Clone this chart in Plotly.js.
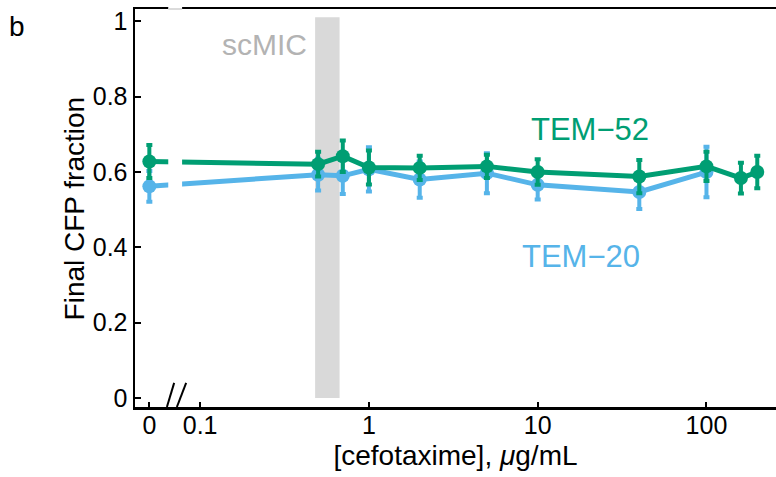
<!DOCTYPE html>
<html>
<head>
<meta charset="utf-8">
<script src="https://cdn.plot.ly/plotly-3.0.1.min.js"></script>
<style>
  html, body { margin: 0; padding: 0; background: #ffffff; }
  #chart { width: 776px; height: 477px; }
</style>
</head>
<body>
<div id="chart"></div>
<script>
// Cefotaxime concentrations (µg/mL); 0 is drawn left of the axis break
const concTEM52 = [0, 0.5, 0.7, 1, 2, 5, 10, 40, 100, 160, 200];
const fracTEM52 = [0.628, 0.621, 0.642, 0.612, 0.611, 0.615, 0.600, 0.588, 0.615, 0.584, 0.600];
const errTEM52  = [0.044, 0.033, 0.042, 0.045, 0.032, 0.031, 0.034, 0.044, 0.039, 0.041, 0.043];

const concTEM20 = [0, 0.5, 0.7, 1, 2, 5, 10, 40, 100];
const fracTEM20 = [0.562, 0.593, 0.590, 0.607, 0.580, 0.597, 0.566, 0.547, 0.600];
const errTEM20  = [0.041, 0.042, 0.048, 0.059, 0.048, 0.053, 0.039, 0.045, 0.067];

const tickValues = [0, 0.1, 1, 10, 100];
const tickLabels = ['0', '0.1', '1', '10', '100'];

// single-cell MIC band (µg/mL)
const scMICRange = [0.48, 0.67];

// where the zero concentration sits on the log axis
const ZERO_POS = 0.05;
const placeX = v => (v === 0 ? ZERO_POS : v);

const GREEN = '#009E73';
const BLUE = '#56B4E9';
const FONT = 'Liberation Sans, Arial, sans-serif';

const xLogRange = [-1.386, 2.412];
const P = e => Math.pow(10, e);

function series(conc, frac, err, color, name) {
  return {
    type: 'scatter',
    mode: 'lines+markers',
    name: name,
    x: conc.map(placeX),
    y: frac,
    line: { color: color, width: 5 },
    marker: { color: color, size: 14 },
    error_y: { type: 'data', array: err, visible: true, color: color, thickness: 4, width: 3 },
    showlegend: false,
    hoverinfo: 'x+y'
  };
}

const data = [
  series(concTEM20, fracTEM20, errTEM20, BLUE, 'TEM−20'),
  series(concTEM52, fracTEM52, errTEM52, GREEN, 'TEM−52')
];

// break between 0 and 0.1 (log10 positions)
const breakLo = -1.189, breakHi = -1.107;

const shapes = [
  // scMIC band
  { type: 'rect', xref: 'x', yref: 'y', layer: 'below',
    x0: scMICRange[0], x1: scMICRange[1], y0: 0, y1: 1.011,
    fillcolor: '#d9d9d9', line: { width: 0 } },
  // gap in the connecting lines at the break
  { type: 'rect', xref: 'x', yref: 'y', layer: 'above',
    x0: P(breakLo), x1: P(breakHi), y0: 0.45, y1: 0.75,
    fillcolor: '#ffffff', line: { width: 0 } },
  // gap in the top frame line
  { type: 'rect', xref: 'x', yref: 'paper', layer: 'above',
    x0: P(breakLo), x1: P(breakHi), y0: 0.99, y1: 1.03,
    fillcolor: '#ffffff', line: { width: 0 } },
  { type: 'line', xref: 'x', yref: 'paper', layer: 'above',
    x0: P(breakLo), x1: P(breakHi), y0: 1, y1: 1,
    line: { color: '#cfcfcf', width: 1.5 } },
  // break marks on the x axis
  { type: 'line', xref: 'x', yref: 'y', layer: 'above',
    x0: P(-1.197), x1: P(-1.154), y0: -0.024, y1: 0.040,
    line: { color: '#000000', width: 2 } },
  { type: 'line', xref: 'x', yref: 'y', layer: 'above',
    x0: P(-1.138), x1: P(-1.083), y0: -0.024, y1: 0.040,
    line: { color: '#000000', width: 2 } }
];

const annotations = [
  { text: 'b', xref: 'paper', yref: 'paper', x: -0.184, y: 0.955,
    xanchor: 'center', yanchor: 'middle', showarrow: false,
    font: { family: FONT, size: 28, color: '#000000' } },
  { text: 'Final CFP fraction', xref: 'paper', yref: 'paper', x: -0.0945, y: 0.5,
    xanchor: 'center', yanchor: 'middle', textangle: -90, showarrow: false,
    font: { family: FONT, size: 28, color: '#000000' } },
  { text: 'scMIC', xref: 'x', yref: 'y', x: -0.617, y: 0.938,
    xanchor: 'center', yanchor: 'middle', showarrow: false,
    font: { family: FONT, size: 30, color: '#b3b3b3' } },
  { text: 'TEM−52', xref: 'x', yref: 'y', x: 1.312, y: 0.712,
    xanchor: 'center', yanchor: 'middle', showarrow: false,
    font: { family: FONT, size: 31, color: GREEN } },
  { text: 'TEM−20', xref: 'x', yref: 'y', x: 1.259, y: 0.376,
    xanchor: 'center', yanchor: 'middle', showarrow: false,
    font: { family: FONT, size: 31, color: BLUE } }
];

const layout = {
  width: 776,
  height: 477,
  margin: { l: 135, r: 0, t: 9, b: 70 },
  paper_bgcolor: '#ffffff',
  plot_bgcolor: '#ffffff',
  font: { family: FONT, color: '#000000' },
  xaxis: {
    type: 'log',
    range: xLogRange,
    tickmode: 'array',
    tickvals: tickValues.map(placeX),
    ticktext: tickLabels,
    ticks: 'inside',
    ticklen: 5,
    tickwidth: 2,
    tickcolor: '#000000',
    ticklabelstandoff: -6,
    showline: true,
    linewidth: 2.5,
    linecolor: '#000000',
    mirror: true,
    showgrid: false,
    zeroline: false,
    tickfont: { family: FONT, size: 25, color: '#000000' },
    title: { text: '[cefotaxime], <i>μ</i>g/mL', standoff: 8,
             font: { family: FONT, size: 28, color: '#000000' } }
  },
  yaxis: {
    range: [-0.024, 1.033],
    tickmode: 'array',
    tickvals: [0, 0.2, 0.4, 0.6, 0.8, 1],
    ticktext: ['0', '0.2', '0.4', '0.6', '0.8', '1'],
    ticks: 'inside',
    ticklen: 6,
    tickwidth: 2,
    tickcolor: '#000000',
    showline: true,
    linewidth: 2.5,
    linecolor: '#000000',
    showgrid: false,
    zeroline: false,
    tickfont: { family: FONT, size: 25, color: '#000000' }
  },
  shapes: shapes,
  annotations: annotations
};

Plotly.newPlot('chart', data, layout, { displayModeBar: false, staticPlot: true });
</script>
</body>
</html>
